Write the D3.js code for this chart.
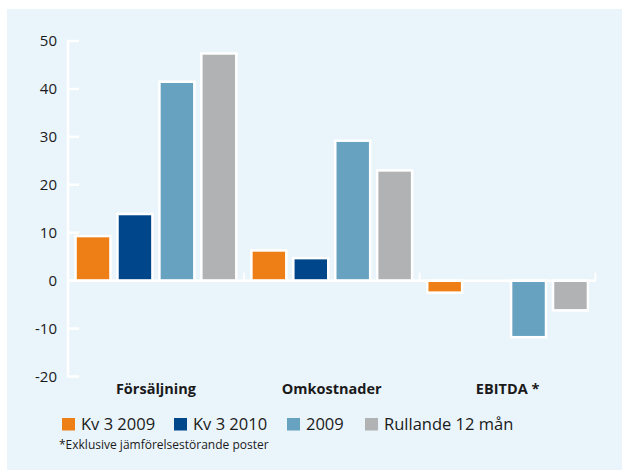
<!DOCTYPE html>
<html><head><meta charset="utf-8">
<script src="https://cdn.jsdelivr.net/npm/d3@7"></script>
<style>
html,body{margin:0;padding:0;background:#fff;}
svg{display:block;font-family:"Open Sans",sans-serif;}
</style></head>
<body><svg id="c" width="622" height="470"></svg>
<script>
const categories = ["Försäljning", "Omkostnader", "EBITDA *"];
const seriesNames = ["Kv 3 2009", "Kv 3 2010", "2009", "Rullande 12 mån"];
const kv3_2009 = [9.3, 6.3, -2.5];
const kv3_2010 = [13.9, 4.7, null];
const year2009 = [41.5, 29.2, -11.8];
const rullande = [47.4, 23.0, -6.2];
const yTicks = [-20, -10, 0, 10, 20, 30, 40, 50];
const colors = ["#ee7f16", "#00468b", "#68a2c1", "#b1b2b4"];
const footnote = "*Exklusive jämförelsestörande poster";

const seriesValues = [kv3_2009, kv3_2010, year2009, rullande];
const svg = d3.select("#c");
svg.append("rect").attr("x",7).attr("y",9).attr("width",615).attr("height",461).attr("fill","#eaf4fb");

const y = d3.scaleLinear().domain([-20,50]).range([376.5,41]);
const x0 = d3.scaleBand().domain(categories).range([68,595.5]);
const x1 = d3.scaleBand().domain(seriesNames).range([0,x0.bandwidth()]).paddingInner(0.167).paddingOuter(0.18);

// y axis
const ya = svg.append("g");
ya.append("line").attr("x1",68).attr("x2",68).attr("y1",y(50)-1).attr("y2",y(-20)+1)
  .attr("stroke","#fff").attr("stroke-width",2.5);
ya.selectAll(".tk").data(yTicks).join("line")
  .attr("x1",68).attr("x2",79).attr("y1",d=>y(d)).attr("y2",d=>y(d))
  .attr("stroke","#fff").attr("stroke-width",2.5);
ya.selectAll(".lb").data(yTicks).join("text")
  .attr("x",57).attr("y",d=>y(d)).attr("dy","0.35em").attr("text-anchor","end")
  .attr("font-size",15).attr("fill","#1a1a1a").text(d=>d);

// bars
const data = [];
categories.forEach((c,i)=>seriesNames.forEach((s,j)=>{
  const v = seriesValues[j][i];
  if (v !== null) data.push({c,s,v,j});
}));
svg.append("g").selectAll("rect").data(data).join("rect")
  .attr("x",d=>x0(d.c)+x1(d.s))
  .attr("width",x1.bandwidth())
  .attr("y",d=>Math.min(y(d.v),y(0)))
  .attr("height",d=>Math.abs(y(d.v)-y(0)))
  .attr("fill",d=>colors[d.j])
  .attr("stroke","#fff").attr("stroke-width",2.5);

// zero line
svg.append("line").attr("x1",68).attr("x2",596).attr("y1",y(0)).attr("y2",y(0))
  .attr("stroke","#fff").attr("stroke-width",2.5);
const bounds = categories.slice(1).map(c=>x0(c)).concat([x0.range()[1]]);
svg.selectAll(".xt").data(bounds).join("line")
  .attr("x1",d=>d).attr("x2",d=>d).attr("y1",y(0)-8).attr("y2",y(0))
  .attr("stroke","#fff").attr("stroke-width",2);

// category labels
svg.selectAll(".cl").data(categories).join("text")
  .attr("x",d=>x0(d)+x0.bandwidth()/2).attr("y",394).attr("text-anchor","middle")
  .attr("font-size",14.5).attr("font-weight","bold").attr("fill","#1a1a1a").text(d=>d);

// legend
const lgX = [62, 174, 287, 365];
const lg = svg.append("g").selectAll("g").data(seriesNames).join("g")
  .attr("transform",(d,i)=>`translate(${lgX[i]},418)`);
lg.append("rect").attr("width",13).attr("height",12.5).attr("fill",(d,i)=>colors[i]);
lg.append("text").attr("x",19).attr("y",12).attr("font-size",16.5).attr("fill","#1a1a1a").text(d=>d);

svg.append("text").attr("x",59).attr("y",449).attr("font-size",12).attr("fill","#1a1a1a").text(footnote);
</script></body></html>
